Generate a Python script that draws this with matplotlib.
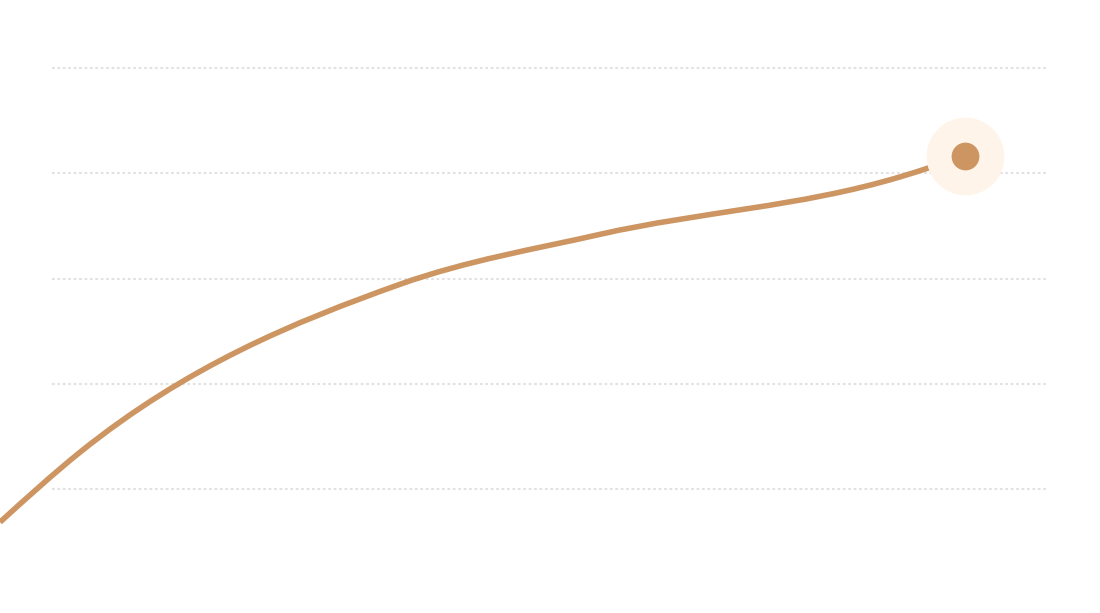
import matplotlib
matplotlib.use('Agg')
import matplotlib.pyplot as plt
from matplotlib.path import Path
from matplotlib.patches import PathPatch
import numpy as np

# data (x in steps, y in value units)
x_vals = [0.0, 1.66, 8.29, 12.44, 18.65, 20.0]
y_vals = [13.7, 27.0, 58.9, 68.4, 79.3, 83.3]
grid_vals = [20, 40, 60, 80, 100]

line_col = '#cd9561'
halo_col = '#fff4ea'
grid_col = '#e2e2e2'


def monotone_path(xs, ys):
    # monotone cubic (like d3 curveMonotoneX), as bezier segments
    xs = np.asarray(xs, float)
    ys = np.asarray(ys, float)
    h = np.diff(xs)
    s = np.diff(ys) / h
    n = len(xs)
    t = np.zeros(n)
    for i in range(1, n - 1):
        p = (s[i-1] * h[i] + s[i] * h[i-1]) / (h[i-1] + h[i])
        t[i] = (np.sign(s[i-1]) + np.sign(s[i])) * min(abs(s[i-1]), abs(s[i]), 0.5 * abs(p))
    t[0] = (3 * s[0] - t[1]) / 2
    t[-1] = (3 * s[-1] - t[-2]) / 2
    verts = [(xs[0], ys[0])]
    codes = [Path.MOVETO]
    for i in range(n - 1):
        dx = h[i] / 3
        verts += [(xs[i] + dx, ys[i] + dx * t[i]),
                  (xs[i+1] - dx, ys[i+1] - dx * t[i+1]),
                  (xs[i+1], ys[i+1])]
        codes += [Path.CURVE4] * 3
    return Path(verts, codes)


fig = plt.figure(figsize=(11, 6.13), dpi=100)
ax = fig.add_axes([0, 0, 1, 1])
ax.set_xlim(0, 1100 / 48.25)
ax.set_ylim(20 - (613 - 489) / 5.2625, 20 + 489 / 5.2625)
ax.axis('off')

ax.hlines(grid_vals, 52 / 48.25, 1048 / 48.25, colors=grid_col,
          linewidth=1.5, linestyles=(0, (1.3, 1.3)), zorder=1)

ax.add_patch(PathPatch(monotone_path(x_vals, y_vals), facecolor='none',
                       edgecolor=line_col, linewidth=4, zorder=2))
ax.plot(x_vals[-1], y_vals[-1], 'o', color=halo_col, markersize=56,
        markeredgewidth=0, zorder=3)
ax.plot(x_vals[-1], y_vals[-1], 'o', color=line_col, markersize=20,
        markeredgewidth=0, zorder=4)

fig.savefig('out.png', dpi=100)
